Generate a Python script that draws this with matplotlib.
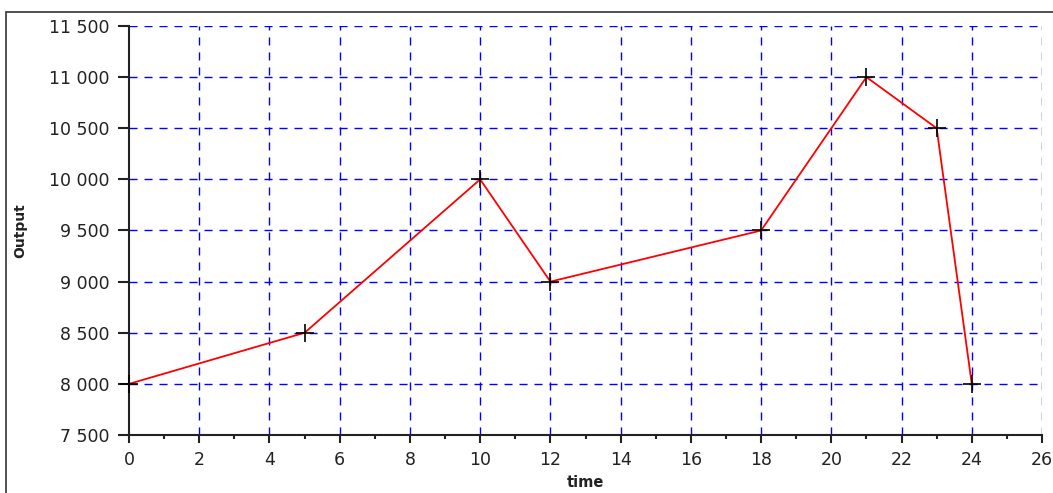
import matplotlib
matplotlib.use("Agg")
import matplotlib.pyplot as plt
from matplotlib.ticker import FuncFormatter, MultipleLocator
from matplotlib.patches import Rectangle

time = [0, 5, 10, 12, 18, 21, 23, 24]
output = [8000, 8500, 10000, 9000, 9500, 11000, 10500, 8000]
x_ticks = list(range(0, 27, 2))
y_ticks = [7500, 8000, 8500, 9000, 9500, 10000, 10500, 11000, 11500]

plt.rcParams['font.family'] = ['DejaVu Sans']

W, H = 1053, 493
fig = plt.figure(figsize=(W / 100, H / 100), dpi=100)
fig.patch.set_facecolor('white')

# outer frame (left and top visible)
fig.patches.append(Rectangle((6 / W, -0.2), 1.3, 1.2 - 12 / H, transform=fig.transFigure,
                             fill=False, edgecolor='#333333', linewidth=1.2))

ax = fig.add_axes([129 / W, 1 - 435 / H, (1042 - 129) / W, (435 - 26) / H])
ax.set_xlim(0, 26)
ax.set_ylim(7500, 11500)

ax.set_xticks(x_ticks)
ax.set_yticks(y_ticks)
ax.xaxis.set_minor_locator(MultipleLocator(1))
ax.yaxis.set_major_formatter(FuncFormatter(lambda v, p: f"{int(v):,}".replace(",", " ")))

ax.grid(True, which='major', color='#0000ff', linestyle=(0, (5.8, 5)), linewidth=1.0)
ax.set_axisbelow(True)
# no grid line on top of the axis lines
ax.xaxis.get_gridlines()[0].set_visible(False)
ax.yaxis.get_gridlines()[0].set_visible(False)

for s in ['top', 'right']:
    ax.spines[s].set_visible(False)
for s in ['left', 'bottom']:
    ax.spines[s].set_color('#222222')
    ax.spines[s].set_linewidth(1.5)

ax.tick_params(axis='x', which='major', direction='out', length=5.5, width=1.5,
               color='#222222', labelsize=12.5, pad=6, labelcolor='#222222')
ax.tick_params(axis='x', which='minor', direction='out', length=3, width=1.5, color='#222222')
ax.tick_params(axis='y', which='major', direction='out', length=8, width=1.5,
               color='#222222', labelsize=12.5, pad=6, labelcolor='#222222')

ax.plot(time, output, color='#ff0000', linewidth=1.3, zorder=3)
ax.plot(time, output, linestyle='none', marker='+', markersize=13, markeredgewidth=1.2,
        color='black', zorder=4, clip_on=False)

ax.set_xlabel('time', fontsize=10.5, fontweight='bold', color='#222222', labelpad=4)
ax.set_ylabel('Output', fontsize=10, fontweight='bold', color='#222222', labelpad=16)

fig.savefig('out.png', dpi=100)
